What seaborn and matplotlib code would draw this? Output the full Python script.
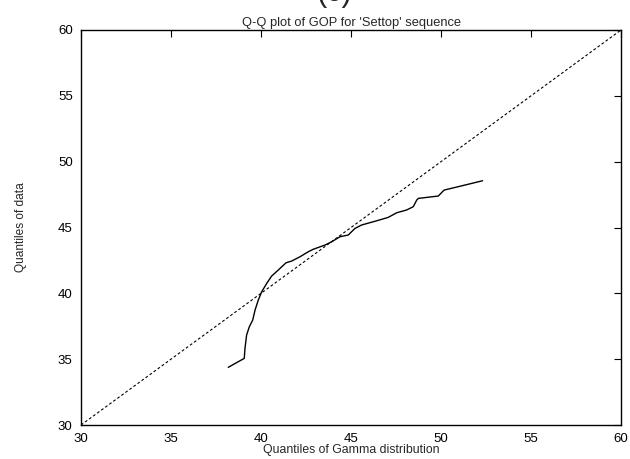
import matplotlib
matplotlib.use("Agg")
import matplotlib.pyplot as plt
import seaborn as sns
import pandas as pd

gamma_q = [38.18, 39.07, 39.11, 39.20, 39.35, 39.54, 39.67, 39.85, 40.04, 40.32, 40.59,
           40.96, 41.39, 41.70, 42.17, 42.63, 42.91, 43.56, 43.93, 44.39, 44.85, 45.22,
           45.59, 46.43, 47.07, 47.54, 48.09, 48.46, 48.65, 48.74, 49.85, 50.17, 52.31]
data_q = [34.38, 35.06, 35.82, 36.83, 37.46, 37.97, 38.73, 39.49, 40.12, 40.76, 41.31,
          41.77, 42.32, 42.45, 42.78, 43.16, 43.35, 43.67, 43.92, 44.30, 44.43, 44.93,
          45.19, 45.51, 45.77, 46.12, 46.33, 46.58, 47.08, 47.21, 47.39, 47.84, 48.55]
ref_line = [30, 60]
ticks = [30, 35, 40, 45, 50, 55, 60]

sns.set_style("white")
plt.rcParams['font.family'] = ['Liberation Sans', 'DejaVu Sans']

fig = plt.figure(figsize=(6.3, 4.59), dpi=100)
ax = fig.add_axes([81/630, 1 - 425/459, 540/630, 395/459])

df = pd.DataFrame({"x": gamma_q, "y": data_q})
sns.lineplot(data=df, x="x", y="y", ax=ax, color="black", lw=1.0, sort=False)
sns.lineplot(x=ref_line, y=ref_line, ax=ax, color="black", lw=0.8, linestyle=(0, (2.5, 2)))

ax.set_xlim(30, 60)
ax.set_ylim(30, 60)
ax.set_xticks(ticks)
ax.set_yticks(ticks)
ax.tick_params(direction="in", length=5, width=0.8, top=True, right=True,
               labelsize=9.5, pad=6, colors="black")
for s in ax.spines.values():
    s.set_visible(True)
    s.set_color("black")
    s.set_linewidth(1.0)
ax.set_xlabel("Quantiles of Gamma distribution", fontsize=8.8, labelpad=-1)
ax.set_ylabel("Quantiles of data", fontsize=8.6, labelpad=22)
ax.set_title("Q-Q plot of GOP for 'Settop' sequence", fontsize=9.3, pad=3)
fig.text(0.53, 1.015, "(c)", fontsize=22, ha="center", va="center")

fig.savefig("out.png", dpi=100)
